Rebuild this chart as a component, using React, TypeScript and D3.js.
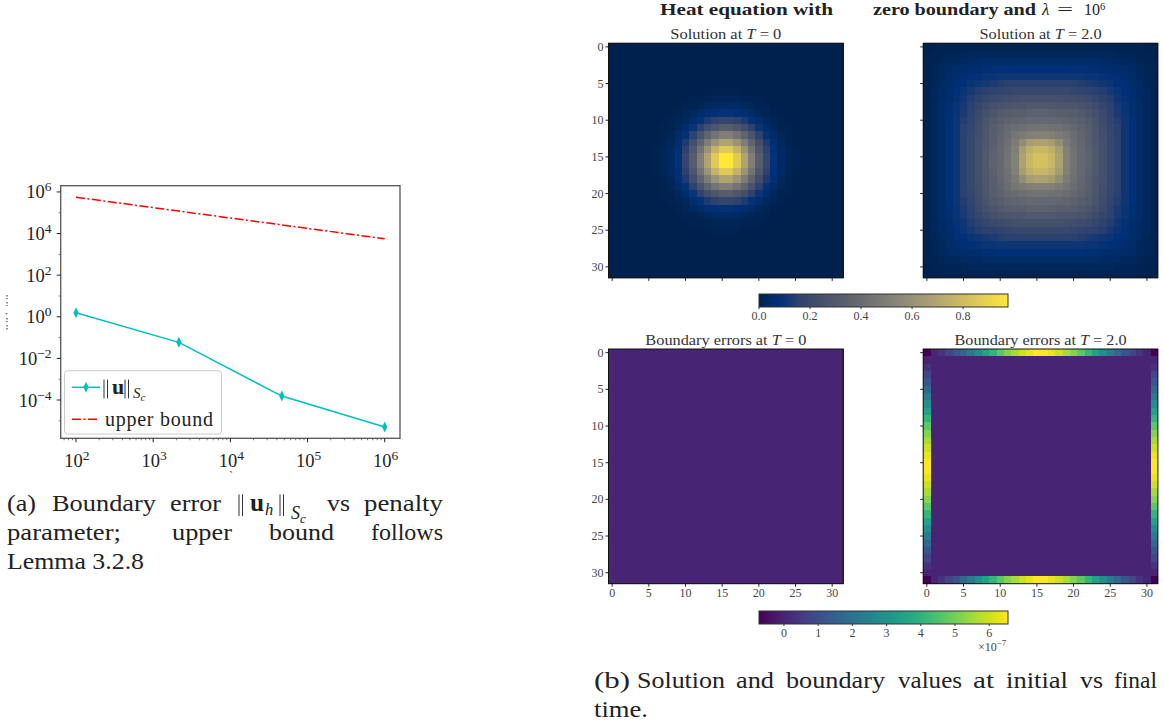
import React from 'react'
import * as d3 from 'd3'

const FONT = '"Liberation Serif", serif'

// left chart
const penalty = [100, 2154, 46416, 1000000]
const boundaryError = [1.57, 0.059, 0.000155, 0.000005]
const upperBound = [560000, 120000, 26000, 5600]
const logXTicks = [2, 3, 4, 5, 6]
const logYTicks = [6, 4, 2, 0, -2, -4]

// heatmap quadrants, percent of full scale, mirrored about the centre
const solutionStart = [
  [0, 0, 0, 0, 0, 0, 0, 0, 0, 0, 0, 0, 0, 0, 0, 0],
  [0, 0, 0, 0, 0, 0, 0, 0, 0, 0, 0, 0, 0, 0, 0, 0],
  [0, 0, 0, 0, 0, 0, 0, 0, 0, 0, 0, 0, 0, 0, 0, 0],
  [0, 0, 0, 0, 0, 0, 0, 0, 0, 0, 0, 0, 0, 0, 0, 0],
  [0, 0, 0, 0, 0, 0, 0, 0, 0, 0, 0, 0, 0, 0, 0, 0],
  [0, 0, 0, 0, 0, 0, 0, 0, 0, 0, 0, 0, 0, 0, 0, 0],
  [0, 0, 0, 0, 0, 0, 0, 0, 0, 0, 0, 0, 0, 0, 1, 1],
  [0, 0, 0, 0, 0, 0, 0, 0, 0, 0, 0, 1, 1, 1, 2, 2],
  [0, 0, 0, 0, 0, 0, 0, 0, 0, 0, 1, 1, 2, 3, 4, 4],
  [0, 0, 0, 0, 0, 0, 0, 0, 0, 1, 2, 3, 5, 7, 8, 9],
  [0, 0, 0, 0, 0, 0, 0, 0, 1, 2, 3, 6, 9, 13, 16, 18],
  [0, 0, 0, 0, 0, 0, 0, 1, 1, 3, 6, 10, 16, 23, 28, 32],
  [0, 0, 0, 0, 0, 0, 0, 1, 2, 5, 9, 16, 26, 36, 44, 50],
  [0, 0, 0, 0, 0, 0, 0, 1, 3, 7, 13, 23, 36, 49, 61, 69],
  [0, 0, 0, 0, 0, 0, 1, 2, 4, 8, 16, 28, 44, 61, 76, 86],
  [0, 0, 0, 0, 0, 0, 1, 2, 4, 9, 18, 32, 50, 69, 86, 98],
]
const solutionEnd = [
  [0, 0, 1, 1, 1, 1, 1, 1, 1, 1, 1, 1, 1, 1, 1, 1],
  [0, 1, 1, 2, 2, 2, 3, 3, 3, 3, 3, 3, 3, 3, 3, 3],
  [1, 1, 2, 3, 3, 4, 4, 4, 5, 5, 5, 5, 5, 5, 5, 5],
  [1, 2, 3, 4, 5, 5, 6, 6, 7, 7, 8, 8, 8, 8, 8, 8],
  [1, 2, 3, 5, 6, 7, 8, 9, 10, 10, 11, 11, 11, 11, 11, 11],
  [1, 2, 4, 5, 7, 8, 10, 11, 12, 13, 14, 15, 15, 15, 15, 15],
  [1, 3, 4, 6, 8, 10, 12, 14, 15, 16, 17, 18, 19, 19, 19, 19],
  [1, 3, 4, 6, 9, 11, 14, 16, 18, 20, 21, 22, 23, 24, 24, 24],
  [1, 3, 5, 7, 10, 12, 15, 18, 21, 24, 26, 27, 28, 28, 29, 29],
  [1, 3, 5, 7, 10, 13, 16, 20, 24, 27, 30, 32, 33, 33, 34, 35],
  [1, 3, 5, 8, 11, 14, 17, 21, 26, 30, 33, 35, 36, 37, 38, 38],
  [1, 3, 5, 8, 11, 15, 18, 22, 27, 32, 35, 38, 40, 42, 43, 44],
  [1, 3, 5, 8, 11, 15, 19, 23, 28, 33, 36, 40, 45, 48, 51, 52],
  [1, 3, 5, 8, 11, 15, 19, 24, 28, 33, 37, 42, 48, 58, 66, 68],
  [1, 3, 5, 8, 11, 15, 19, 24, 29, 34, 38, 43, 51, 66, 74, 78],
  [1, 3, 5, 8, 11, 15, 19, 24, 29, 35, 38, 44, 52, 68, 78, 82],
]
// boundary error along one edge, in units of 1e-7
const edgeError = [-0.73, 0, 0.3, 0.8, 1.2, 1.7, 2.3, 2.9, 3.5, 4.1, 4.7, 5.2, 5.6, 6.0, 6.3, 6.5]

const gridTicks = [0, 5, 10, 15, 20, 25, 30]
const solutionTicks = [0, 0.2, 0.4, 0.6, 0.8]
const errorTicks = [0, 1, 2, 3, 4, 5, 6]
const solutionMax = 0.976
const errorMin = -0.73
const errorMax = 6.55

// colours, closer than d3's cividis fit at the blue end
const cividisStops = [0, 0.04, 0.08, 0.11, 0.15, 0.22, 0.33, 0.44, 0.56, 0.67, 0.78, 0.89, 1]
const cividisColors = ['#00214d', '#002a62', '#003079', '#0c3575', '#2a4070', '#3f4c6c', '#575d6d', '#707173', '#8a8678', '#a59c74', '#c3b369', '#e1cc55', '#fee838']
const cividis = d3.scaleLinear<string>().domain(cividisStops).range(cividisColors).clamp(true)

const mirror = (row: number[]) => [...row, ...[...row].reverse()]
const expand = (quad: number[][]) => {
  const rows = quad.map(mirror)
  return [...rows, ...[...rows].reverse()]
}
const errorField = (withRim: boolean) => {
  const rim = mirror(edgeError)
  return d3.range(32).map((r) =>
    d3.range(32).map((c) => {
      if (!withRim) return 0
      if (r === 0 || r === 31) return rim[c]
      if (c === 0 || c === 31) return rim[r]
      return 0
    }))
}

function PowerTen({ x, y, exp, anchor }: { x: number; y: number; exp: number; anchor: string }) {
  const label = exp < 0 ? `\u2212${-exp}` : `${exp}`
  return (
    <text x={x} y={y} textAnchor={anchor} fontSize={18.5} fill="#222">
      10<tspan dy={-7} fontSize={13.5}>{label}</tspan>
    </text>
  )
}

function LeftChart() {
  const frame = { left: 60.7, right: 400, top: 185.7, bottom: 438.3 }
  const x = d3.scaleLog().domain([10 ** 1.802, 10 ** 6.198]).range([frame.left, frame.right])
  const y = d3.scaleLog().domain([10 ** -5.84, 10 ** 6.3]).range([frame.bottom, frame.top])
  const pts = penalty.map((p, i) => [x(p), y(boundaryError[i])])
  const line = d3.line()
  const minorX = x.ticks(40).filter((v) => !logXTicks.includes(Math.round(Math.log10(v) * 1000) / 1000))
  const minorY = logYTicks.slice(0, -1).map((e) => e - 1).concat([-5])
  const diamond = 'M0,-5.5L2.6,0L0,5.5L-2.6,0Z'
  return (
    <g>
      {/* what is left of the cropped y label */}
      <path d="M7,295V299M7,302V306M6.5,313V315M7,318V322M7,325V331" stroke="#777" strokeWidth={1.6} fill="none" strokeDasharray="1.5 1.5" />
      <path d={line(penalty.map((p, i) => [x(p), y(upperBound[i])])) || ''} fill="none" stroke="#f00" strokeWidth={1.5} strokeDasharray="9 2.5 2 2.5" />
      <path d={line(pts as [number, number][]) || ''} fill="none" stroke="#00bfbf" strokeWidth={1.5} />
      {pts.map(([px, py], i) => (
        <path key={i} d={diamond} transform={`translate(${px},${py})`} fill="#00bfbf" />
      ))}
      <rect x={frame.left} y={frame.top} width={frame.right - frame.left} height={frame.bottom - frame.top} fill="none" stroke="#555" strokeWidth={1.3} />
      {logXTicks.map((e) => (
        <g key={e}>
          <line x1={x(10 ** e)} x2={x(10 ** e)} y1={frame.bottom} y2={frame.bottom + 4} stroke="#222" />
          <PowerTen x={x(10 ** e) + 1} y={467} exp={e} anchor="middle" />
        </g>
      ))}
      {minorX.map((v, i) => (
        <line key={i} x1={x(v)} x2={x(v)} y1={frame.bottom} y2={frame.bottom + 2} stroke="#444" strokeWidth={0.7} />
      ))}
      {logYTicks.map((e) => (
        <g key={e}>
          <line x1={frame.left - 4} x2={frame.left} y1={y(10 ** e)} y2={y(10 ** e)} stroke="#222" />
          <PowerTen x={51.5} y={y(10 ** e) + 6.5} exp={e} anchor="end" />
        </g>
      ))}
      {minorY.map((e) => (
        <line key={e} x1={frame.left - 2} x2={frame.left} y1={y(10 ** e)} y2={y(10 ** e)} stroke="#444" strokeWidth={0.7} />
      ))}
      <rect x={64.5} y={370.7} width={157} height={63.3} rx={3} fill="#fff" fillOpacity={0.85} stroke="#ccc" />
      <line x1={72} x2={100} y1={387.3} y2={387.3} stroke="#00bfbf" strokeWidth={1.5} />
      <path d={diamond} transform="translate(86,387.3)" fill="#00bfbf" />
      <Norm x={[103, 112, 124]} y={394} size={20} subX={133} subY={397.5} subSize={15} />
      <line x1={72} x2={97} y1={419.3} y2={419.3} stroke="#f00" strokeWidth={1.5} strokeDasharray="9 2.5 2 2.5" />
      <text x={105} y={426} fontSize={20} fill="#222" textLength={108} lengthAdjust="spacing">upper bound</text>
      <text x={229} y={480} fontSize={12} fill="#444">`</text>
    </g>
  )
}

// double-bar norm of bold u with an S_c subscript, placed piece by piece
function Norm({ x, y, size, subX, subY, subSize, h }: { x: number[]; y: number; size: number; subX: number; subY: number; subSize: number; h?: number }) {
  const bars = (px: number) => (
    <path d={`M${px + 1},${y - size * 0.72}V${y + size * 0.22}M${px + 4.5},${y - size * 0.72}V${y + size * 0.22}`} stroke="#333" strokeWidth={1} fill="none" />
  )
  return (
    <g fill="#222">
      {bars(x[0])}
      <text x={x[1]} y={y} fontSize={size * 1.1} fontWeight="bold">u</text>
      {h !== undefined && <text x={h} y={y + 4} fontSize={size * 0.72} fontStyle="italic">h</text>}
      {bars(x[2])}
      <text x={subX} y={subY} fontSize={subSize} fontStyle="italic">S<tspan dy={subSize * 0.2} fontSize={subSize * 0.72}>c</tspan></text>
    </g>
  )
}

type Word = { text: string; x0: number; x1: number }

const leftCaption: { y: number; words: Word[] }[] = [
  {
    y: 511,
    words: [
      { text: '(a)', x0: 7, x1: 36 },
      { text: 'Boundary', x0: 52, x1: 156 },
      { text: 'error', x0: 170, x1: 221 },
      { text: 'vs', x0: 327, x1: 350 },
      { text: 'penalty', x0: 364, x1: 443 },
    ],
  },
  {
    y: 540,
    words: [
      { text: 'parameter;', x0: 7, x1: 121 },
      { text: 'upper', x0: 172, x1: 232 },
      { text: 'bound', x0: 269, x1: 334 },
      { text: 'follows', x0: 371, x1: 443 },
    ],
  },
  { y: 569, words: [{ text: 'Lemma 3.2.8', x0: 7, x1: 144 }] },
]

const rightCaption: { y: number; words: Word[] }[] = [
  {
    y: 688,
    words: [
      { text: '(b)', x0: 594, x1: 630 },
      { text: 'Solution', x0: 637, x1: 725 },
      { text: 'and', x0: 736, x1: 774 },
      { text: 'boundary', x0: 786, x1: 885 },
      { text: 'values', x0: 898, x1: 962 },
      { text: 'at', x0: 973, x1: 994 },
      { text: 'initial', x0: 1006, x1: 1068 },
      { text: 'vs', x0: 1080, x1: 1103 },
      { text: 'final', x0: 1114, x1: 1157 },
    ],
  },
  { y: 717, words: [{ text: 'time.', x0: 594, x1: 648 }] },
]

function Caption({ lines }: { lines: { y: number; words: Word[] }[] }) {
  return (
    <g fontSize={23} fill="#222">
      {lines.map((l) => l.words.map((w, i) => (
        <text key={`${l.y}-${i}`} x={w.x0} y={l.y} textLength={w.x1 - w.x0} lengthAdjust="spacingAndGlyphs">{w.text}</text>
      )))}
    </g>
  )
}

function Heatmap({ matrix, color, left, top, title, titleWidth, xLabels, yLabels }: {
  matrix: number[][]
  color: (v: number) => string
  left: number
  top: number
  title: React.ReactNode
  titleWidth: number
  xLabels: boolean
  yLabels: boolean
}) {
  const size = 234.7
  const x = d3.scaleLinear().domain([-0.5, 31.5]).range([left, left + size])
  const y = d3.scaleLinear().domain([-0.5, 31.5]).range([top, top + size])
  return (
    <g>
      <text x={left + size / 2 - titleWidth / 2} y={top - 4} fontSize={14} fill="#333" textLength={titleWidth} lengthAdjust="spacingAndGlyphs">{title}</text>
      <g shapeRendering="crispEdges">
        {matrix.map((row, r) => row.map((v, c) => (
          <rect key={`${r}-${c}`} x={x(c - 0.5)} y={y(r - 0.5)} width={x(c + 0.5) - x(c - 0.5) + 0.5} height={y(r + 0.5) - y(r - 0.5) + 0.5} fill={color(v)} />
        )))}
      </g>
      <rect x={left} y={top} width={size} height={size} fill="none" stroke="#111" strokeWidth={1} />
      {gridTicks.map((t) => (
        <g key={t}>
          <line x1={x(t)} x2={x(t)} y1={top + size} y2={top + size + 3} stroke="#222" />
          <line x1={left - 3} x2={left} y1={y(t)} y2={y(t)} stroke="#222" />
          {xLabels && <text x={x(t)} y={top + size + 13.5} textAnchor="middle" fontSize={12} fill="#444">{t}</text>}
          {yLabels && <text x={left - 5} y={y(t) + 4} textAnchor="end" fontSize={12} fill="#444">{t}</text>}
        </g>
      ))}
    </g>
  )
}

function Colorbar({ id, interp, top, min, max, ticks, format }: {
  id: string
  interp: (t: number) => string
  top: number
  min: number
  max: number
  ticks: number[]
  format: (v: number) => string
}) {
  const x = d3.scaleLinear().domain([min, max]).range([759, 1008])
  const stops = d3.range(0, 1.001, 0.02)
  return (
    <g>
      <defs>
        <linearGradient id={id}>
          {stops.map((s) => <stop key={s} offset={s} stopColor={interp(s)} />)}
        </linearGradient>
      </defs>
      <rect x={759} y={top} width={249} height={13} fill={`url(#${id})`} stroke="#333" strokeWidth={1} />
      {ticks.map((t) => (
        <g key={t}>
          <line x1={x(t)} x2={x(t)} y1={top + 13} y2={top + 15} stroke="#333" />
          <text x={x(t)} y={top + 26} textAnchor="middle" fontSize={12} fill="#444">{format(t)}</text>
        </g>
      ))}
    </g>
  )
}

export default function App() {
  const solutionColor = (v: number) => cividis(v / 100 / solutionMax)
  const errorScale = d3.scaleLinear().domain([errorMin, errorMax]).range([0, 1])
  const errorColor = (v: number) => d3.interpolateViridis(errorScale(v))
  const titleOf = (label: string, t: string) => (
    <>{label} at <tspan fontStyle="italic">T</tspan> = {t}</>
  )
  return (
    <svg width={1164} height={725} style={{ position: 'absolute', left: 0, top: 0 }} fontFamily={FONT}>
      <rect width={1164} height={725} fill="#fff" />
      <LeftChart />
      <Caption lines={leftCaption} />
      <Norm x={[238, 250, 279]} y={511} size={23} h={265} subX={291} subY={519} subSize={18} />

      <g fontSize={16} fill="#222">
        <text x={660} y={15} fontWeight="bold" textLength={173} lengthAdjust="spacingAndGlyphs">Heat equation with</text>
        <text x={873} y={15} fontWeight="bold" textLength={163} lengthAdjust="spacingAndGlyphs">zero boundary and</text>
        <text x={1042} y={15} fontSize={17} fontStyle="italic">{'\u03BB'}</text>
        <text x={1057} y={15} textLength={16} lengthAdjust="spacingAndGlyphs">=</text>
        <text x={1084} y={15}>10<tspan dy={-5} fontSize={10.5}>6</tspan></text>
      </g>

      <Heatmap matrix={expand(solutionStart)} color={solutionColor} left={608.5} top={43.2} title={titleOf('Solution', '0')} titleWidth={111} xLabels={false} yLabels />
      <Heatmap matrix={expand(solutionEnd)} color={solutionColor} left={923.2} top={43.2} title={titleOf('Solution', '2.0')} titleWidth={122} xLabels={false} yLabels={false} />
      <Colorbar id="cb-solution" interp={(t) => cividis(t)} top={294} min={0} max={solutionMax} ticks={solutionTicks} format={(v) => v.toFixed(1)} />

      <Heatmap matrix={errorField(false)} color={errorColor} left={608.5} top={349} title={titleOf('Boundary errors', '0')} titleWidth={161} xLabels yLabels />
      <Heatmap matrix={errorField(true)} color={errorColor} left={923.2} top={349} title={titleOf('Boundary errors', '2.0')} titleWidth={172} xLabels yLabels={false} />
      <Colorbar id="cb-error" interp={d3.interpolateViridis} top={611} min={errorMin} max={errorMax} ticks={errorTicks} format={(v) => `${v}`} />
      <text x={978} y={651} fontSize={12} fill="#444">{'\u00D7'}10<tspan dy={-5} fontSize={9}>{'\u2212'}7</tspan></text>

      <Caption lines={rightCaption} />
    </svg>
  )
}
